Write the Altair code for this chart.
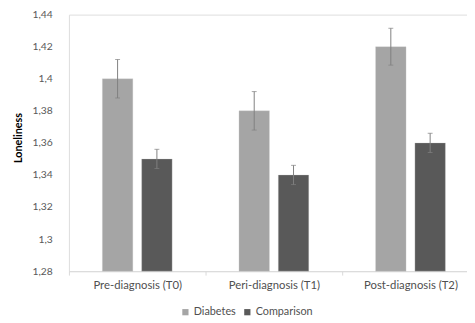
import altair as alt
import pandas as pd

categories = ["Pre-diagnosis (T0)", "Peri-diagnosis (T1)", "Post-diagnosis (T2)"]
groups = ["Diabetes", "Comparison"]
diabetes = [1.40, 1.38, 1.42]
comparison = [1.35, 1.34, 1.36]
diabetes_err = [0.012, 0.012, 0.0115]
comparison_err = [0.006, 0.006, 0.006]
y_ticks = [1.28, 1.30, 1.32, 1.34, 1.36, 1.38, 1.40, 1.42, 1.44]
colors = ["#a5a5a5", "#595959"]

rows = []
for i, c in enumerate(categories):
    for g, vals, errs in (("Diabetes", diabetes, diabetes_err), ("Comparison", comparison, comparison_err)):
        rows.append({"cat": c, "group": g, "value": vals[i], "base": y_ticks[0],
                     "lo": vals[i] - errs[i], "hi": vals[i] + errs[i]})
df = pd.DataFrame(rows)

FONT = "Lato"

x = alt.X("cat:N", sort=categories,
          scale=alt.Scale(paddingInner=0, paddingOuter=0, range=[0, 417]),
          axis=alt.Axis(title=None, labelAngle=0, tickBand="extent", tickSize=4,
                        tickColor="#d9d9d9", domainColor="#d9d9d9", labelPadding=5,
                        labelFont=FONT, labelFontSize=11.5, labelColor="#505050"))
xoff = alt.XOffset("group:N", sort=groups,
                   scale=alt.Scale(paddingInner=0.225, paddingOuter=0.85))
yscale = alt.Scale(domain=[y_ticks[0], y_ticks[-1]], nice=False, zero=False)
yaxis = alt.Axis(values=y_ticks, tickCount=len(y_ticks), title="Loneliness",
                 grid=False, domain=False,
                 ticks=False, labelPadding=17, titlePadding=9, labelOverlap=False,
                 labelExpr="replace(format(datum.value, '.2~f'), '.', ',')",
                 labelFont=FONT, labelFontSize=10.5, labelColor="#595959",
                 titleFont=FONT, titleFontSize=11, titleFontWeight="bold",
                 titleColor="#000000", titleY=125)

base = alt.Chart(df)

bars = base.mark_bar(stroke="#d0d0d0", strokeWidth=0.5, strokeOpacity=0.6).encode(
    x=x,
    xOffset=xoff,
    y=alt.Y("value:Q", scale=yscale, axis=yaxis),
    y2="base:Q",
    color=alt.Color("group:N", sort=groups,
                    scale=alt.Scale(domain=groups, range=colors),
                    legend=alt.Legend(title=None, orient="none", direction="horizontal",
                                      legendX=113, legendY=297, symbolType="square",
                                      symbolSize=40, symbolStrokeWidth=0, labelOffset=3,
                                      columnPadding=6, labelFont=FONT, labelFontSize=11,
                                      labelColor="#505050")),
)

err = base.mark_rule(color="#808080", strokeWidth=1).encode(
    x=x, xOffset=xoff,
    y=alt.Y("lo:Q", scale=yscale, axis=yaxis),
    y2="hi:Q",
)

caps_hi = base.mark_tick(color="#808080", thickness=1, size=5, orient="horizontal").encode(
    x=x, xOffset=xoff, y=alt.Y("hi:Q", scale=yscale, axis=yaxis))
caps_lo = base.mark_tick(color="#808080", thickness=1, size=5, orient="horizontal").encode(
    x=x, xOffset=xoff, y=alt.Y("lo:Q", scale=yscale, axis=yaxis))

chart = alt.layer(bars, err, caps_hi, caps_lo).properties(
    width=405, height=261,
    autosize=alt.AutoSizeParams(type="none"),
    padding={"left": 62, "top": 4, "right": 0, "bottom": 50},
).configure_view(stroke=None).configure(background="white")

chart.save("out.html", embed_options={"renderer": "svg", "actions": False})
